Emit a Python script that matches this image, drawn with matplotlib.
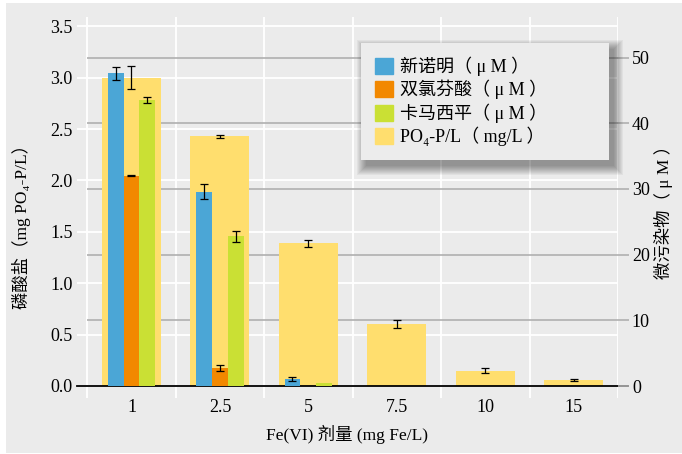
import numpy as np
import matplotlib
matplotlib.use("Agg")
import matplotlib.pyplot as plt
from matplotlib.patches import Patch, Rectangle
from matplotlib.transforms import blended_transform_factory

plt.rcParams['font.family'] = ['Liberation Serif', 'Noto Sans CJK SC']

# data
doses = ['1', '2.5', '5', '7.5', '10', '15']
smx = [47.6, 29.6, 1.06, 0, 0, 0]          # 新诺明 (uM)
smx_err = [1.0, 1.2, 0.35, 0, 0, 0]
dcf = [32.0, 2.74, 0, 0, 0, 0]             # 双氯芬酸 (uM)
dcf_err = [0.08, 0.5, 0, 0, 0, 0]
cbz = [43.5, 22.8, 0.45, 0, 0, 0]          # 卡马西平 (uM)
cbz_err = [0.45, 0.85, 0, 0, 0, 0]
po4 = [3.0, 2.43, 1.39, 0.60, 0.15, 0.06]  # PO4-P (mg/L)
po4_err = [0.11, 0.015, 0.034, 0.04, 0.026, 0.008]
right_ticks = [0, 10, 20, 30, 40, 50]

c_smx, c_dcf, c_cbz, c_po4 = '#4ba6d6', '#f28800', '#cae034', '#ffde6e'
bg = '#ebebeb'
gline = '#b0b0b0'

fig = plt.figure(figsize=(6.82, 4.54), dpi=100, facecolor='white')
fig.patches.append(Rectangle((6 / 682, 1 / 454), 1, 450 / 454, transform=fig.transFigure,
                             facecolor=bg, edgecolor='none', zorder=-10))
ax = fig.add_axes([77 / 682, 1 - 398 / 454, 541 / 682, 381 / 454])
ax.set_facecolor(bg)
ax2 = ax.twinx()

x = np.arange(len(doses))
ax.set_xlim(-0.616, 5.5)
ax.set_ylim(-0.117, 3.59)
ax2.set_ylim(-1.825, 56.18)

# white grid
left_ticks = np.arange(0, 3.51, 0.5)
ax.set_yticks(left_ticks)
ax.set_yticklabels(['%.1f' % v for v in left_ticks])
for v in left_ticks:
    ax.axhline(v, color='white', lw=1.3, zorder=0)
for xv in np.arange(-0.5, 5.6, 1.0):
    ax.axvline(xv, color='white', lw=1.3, zorder=0)

# gray gridlines for right axis, drawn behind the bars
tr = blended_transform_factory(ax.transData, ax2.transData)
ax.hlines(right_ticks[1:], -0.5, 5.5, transform=tr, color=gline, lw=1.2, zorder=0.5)

# phosphate bars (left axis)
ax.bar(x, po4, width=0.667, color=c_po4, zorder=1)
m = np.array(po4_err) > 0
ax.errorbar(x[m], np.array(po4)[m], yerr=np.array(po4_err)[m], fmt='none',
            ecolor='black', elinewidth=0.9, capsize=3.2, capthick=0.9, zorder=2)

ax.axhline(0, xmin=0, xmax=(628 - 77) / 541, color='black', lw=1.3, zorder=3, clip_on=False)

# micropollutant bars (right axis)
w = 0.18
for off, vals, errs, col in [(-w, smx, smx_err, c_smx), (0, dcf, dcf_err, c_dcf), (w, cbz, cbz_err, c_cbz)]:
    ax2.bar(x + off, vals, width=w, color=col, zorder=1)
    m = np.array(errs) > 0
    ax2.errorbar((x + off)[m], np.array(vals)[m], yerr=np.array(errs)[m], fmt='none',
                 ecolor='black', elinewidth=0.9, capsize=3.2, capthick=0.9, zorder=2)

ax2.set_yticks(right_ticks)
ax.set_xticks(x)
ax.set_xticklabels(doses)

for a in (ax, ax2):
    for s in a.spines.values():
        s.set_visible(False)
ax.tick_params(axis='y', length=0, pad=3, labelsize=13)
ax.tick_params(axis='x', length=0, pad=1, labelsize=13)
ax2.tick_params(axis='y', length=8, width=1.2, color=gline, pad=2, labelsize=13)

ax.set_xlabel('Fe(VI) 剂量 (mg Fe/L)', fontsize=12.5, labelpad=6)
ax.set_ylabel('磷酸盐（mg PO₄-P/L）', fontsize=12.5)
ax.yaxis.set_label_coords(-0.085, 0.46)
ax2.set_ylabel('微污染物（ μ M ）', fontsize=12.5, labelpad=3, rotation=90)

handles = [Patch(color=c_smx), Patch(color=c_dcf), Patch(color=c_cbz), Patch(color=c_po4)]
labels = ['新诺明（ μ M ）', '双氯芬酸（ μ M ）', '卡马西平（ μ M ）', 'PO₄-P/L（ mg/L ）']
leg = ax2.legend(handles, labels, loc='upper left', bbox_to_anchor=(0.525, 0.63, 0.458, 0.302),
                 mode='expand', borderaxespad=0, fontsize=13, frameon=True, fancybox=False,
                 facecolor='#ececec', edgecolor='none', framealpha=1,
                 handlelength=1.0, handleheight=1.0, handletextpad=0.4,
                 labelspacing=0.22, borderpad=0.75)
leg.set_zorder(6)

# soft drop shadow behind the legend
fig.canvas.draw()
bb = leg.get_window_extent()
for k in range(10):
    ax2.add_patch(Rectangle((bb.x0 + 5 - k, bb.y0 - 6 - k), bb.width + 2 * k, bb.height + 2 * k,
                            transform=None, facecolor='black', edgecolor='none',
                            alpha=0.045, zorder=5, clip_on=False))

fig.savefig('out.png', dpi=100, facecolor=fig.get_facecolor())
